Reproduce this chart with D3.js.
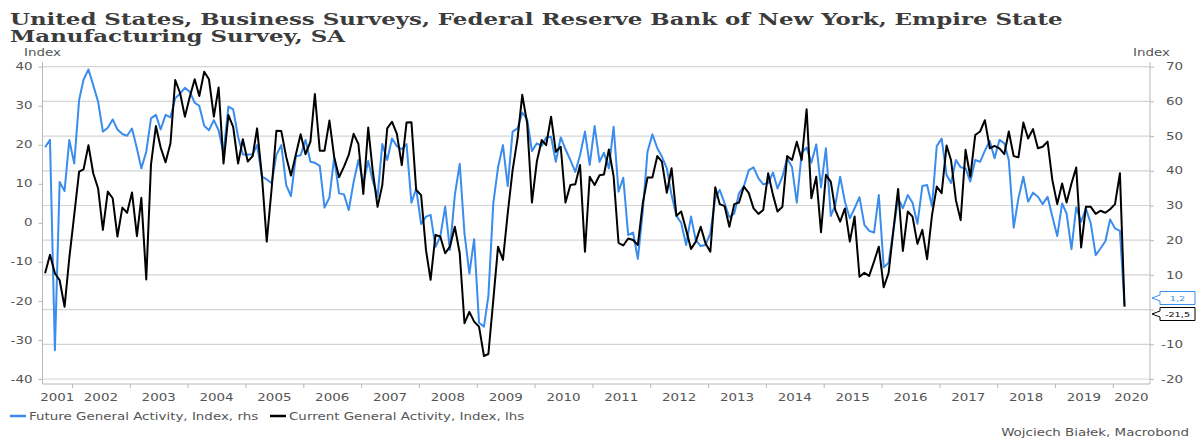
<!DOCTYPE html>
<html><head><meta charset="utf-8">
<script src="https://cdn.jsdelivr.net/npm/d3@7"></script>
<style>body{margin:0;background:#fff;} svg{display:block;}</style>
</head><body><svg id="c" width="1201" height="441"></svg>
<script>
// ---------- DATA (monthly, July 2001 – March 2020) ----------
const firstYear = 2001, firstMonth = 6; // July 2001 (0-based month)
const currentActivity = [
 -12.9,-8.2,-12.9,-14.7,-21.5,-9,2,13.1,13.7,19.9,
 12.7,8.8,-1.8,8.0,6.3,-3.5,3.9,2.6,7.8,-3.4,
 6.4,-14.5,15,24.8,19.3,15.5,20.4,36.6,33.2,27.2,
 32.3,36.8,32.5,38.7,36.8,27.2,34.7,15.2,27.6,
 24.6,15.2,21.4,15.7,17.1,24.2,11.8,-4.8,8.8,23.6,23.5,
 16.9,12.1,17.5,22.7,17.6,20.8,33.0,18.5,18.5,26.2,
 16.9,11.7,14.4,17.4,22.8,20.2,7.4,24.4,13.5,4.1,
 9.7,24.2,25.9,22.8,14.8,25.7,25.8,
 8.4,7.1,-7.0,-14.6,-3.1,-3.5,-7.8,-6.1,-1.0,
 -7.8,-25.7,-22.8,-25.3,-26.6,-34.1,-33.6,-19.8,-6.1,-9.5,
 2.4,13.5,21.6,32.8,25.5,5.2,15.7,21.2,19.9,27.2,
 18.2,19.5,5.2,9.7,9.9,14.8,-7.4,11.8,9.7,12.2,
 12.4,18.8,11.9,-5.1,-5.8,-4.0,-4.4,-5.7,5.0,11.6,
 11.6,17.1,15.7,7.7,14.0,1.8,2.9,-1.8,-6.7,-4.8,
 -1.0,-5.2,-7.4,9.1,4.8,4.3,-1.0,4.8,5.2,9.3,
 7.6,3.7,2.3,3.3,12.7,7.1,2.9,
 4.1,17.1,16.1,20.8,16.1,29.1,6.3,11.8,-2.4,12.3,
 10.5,3.3,0.3,3.7,-4.8,1.6,-13.8,-12.8,-13.6,-9.9,
 -6.1,-16.5,-12.8,-2.3,8.7,-7.2,2.9,1.6,-5.4,-1.8,
 -9.3,2.0,9.3,7.6,19.8,16.1,5.8,0.7,
 18.7,11.8,22.5,23.4,26.3,19.1,19.7,19.1,17.6,23.4,
 17.1,16.8,25.7,21.6,24.0,19.1,19.5,20.8,11.0,4.8,
 10.1,5.2,10.1,14.2,-6.3,4.1,4.1,2.3,3.1,2.6,
 3.5,4.8,12.7,-21.5
];
const futureActivity = [
 46.8,48.9,-11.7,36.8,34.2,48.9,42.1,60.4,66.3,69.2,
 64.7,59.9,51.3,52.4,54.8,51.9,50.6,50.1,52.2,46.4,
 40.7,45.5,55.1,56.1,51.9,56.1,55.4,60.9,62.3,63.9,
 62.8,59.6,58.7,53.0,51.7,54.6,51.7,45.0,58.5,
 57.7,49.8,44.7,44.7,44.7,47.4,38.3,37.5,36.4,44.6,47.4,
 35.9,32.7,44.2,44.5,48.9,42.6,42.3,41.4,29.4,32.3,
 43.9,33.5,33.2,28.7,36.8,43.1,36.4,42.8,37.3,32.5,
 47.7,43.1,49.3,47.1,46.2,47.7,30.8,
 34.9,24.7,26.8,27.3,18.1,21.0,29.7,17.2,33.0,
 42.0,22.0,10.4,20.3,-3.8,-4.9,3.9,30.6,41.0,47.4,
 35.6,51.3,52.2,56.8,54.8,45.7,47.9,47.2,49.6,49.8,
 42.6,49.6,46.2,43.1,39.7,44.5,51.3,41.7,52.9,42.6,
 45.2,40.7,52.7,34.0,38.0,21.5,22.2,14.6,28.2,45.5,
 50.5,46.5,44.1,40.7,33.0,27.0,25.0,18.6,26.8,20.0,
 18.3,18.6,22.0,32.1,34.5,30.6,26.6,27.7,33.5,35.6,
 40.2,41.0,37.8,36.1,36.4,39.5,34.9,
 38.3,43.6,41.0,30.8,45.2,46.7,42.3,47.6,35.2,46.5,
 27.0,30.1,38.3,31.1,26.3,29.2,32.4,24.4,22.7,22.2,
 33.0,12.2,13.5,22.5,32.1,29.2,33.0,30.8,24.7,35.6,
 35.9,29.8,47.1,49.3,38.8,36.5,43.1,41.0,
 40.7,36.9,43.1,42.6,45.8,48.6,43.6,48.9,47.9,43.1,
 23.6,32.1,38.3,31.1,33.7,32.5,30.4,32.5,26.8,21.2,
 30.6,27.7,17.4,29.5,25.3,29.1,24.8,15.7,17.6,19.7,
 26.0,23.4,22.7,1.2
];
const leftTicks = [40,30,20,10,0,-10,-20,-30,-40];
const rightTicks = [70,60,50,40,30,20,10,0,-10,-20];
const yearLabels = d3.range(2001, 2021);
const titleLines = ["United States, Business Surveys, Federal Reserve Bank of New York, Empire State",
                    "Manufacturing Survey, SA"];
const seriesNames = ["Future General Activity, Index, rhs", "Current General Activity, Index, lhs"];
const endLabels = ["1,2", "-21,5"];
const axisTitle = "Index";
const sourceText = "Wojciech Białek, Macrobond";

// ---------- LAYOUT ----------
const svg = d3.select("#c");
const X0 = 42.5, X1 = 1150, YT = 66.7, YB = 379, BASE = 384;
const BLUE = "#3a8ded", BLACK = "#000", GRID = "#d4d4d4", AX = "#b8b8b8", TXT = "#555";
const FONT = "'DejaVu Sans', Verdana, sans-serif";
const FS = 9.8, KX = 1.37;   // small text size and horizontal stretch of the original export

function stext(g, px, py, str, anchor, opt = {}) {
  return g.append("text")
    .attr("transform", `translate(${px},${py}) scale(${opt.k || KX},1)`)
    .attr("text-anchor", anchor || "start")
    .attr("fill", opt.fill || TXT)
    .style("font-family", FONT).style("font-size", (opt.fs || FS) + "px")
    .text(str);
}

const x = d3.scaleTime().domain([new Date(2002,0,1), new Date(2020,0,1)]).range([72, 1112.8]);
const yL = d3.scaleLinear().domain([-40,40]).range([YB, YT]);
const yR = d3.scaleLinear().domain([-20,70]).range([YB, YT]);
const dates = currentActivity.map((_, i) => new Date(firstYear, firstMonth + i, 15));

// title
const title = svg.append("g").attr("fill", "#3c3c3c")
  .style("font-family", "'DejaVu Serif', serif").style("font-weight", "bold").style("font-size", "16.3px");
const t1 = title.append("text").attr("x", 0).attr("y", 0).text(titleLines[0]);
const t2 = title.append("text").attr("x", 0).attr("y", 0).text(titleLines[1]);
const sx = 1052 / t1.node().getComputedTextLength();
t1.attr("transform", `translate(10,24.5) scale(${sx},1)`);
t2.attr("transform", `translate(10,42.3) scale(${sx},1)`);

// gridlines (right axis)
svg.append("g").selectAll("line").data(rightTicks).join("line")
  .attr("x1", X0).attr("x2", X1).attr("y1", d => yR(d)).attr("y2", d => yR(d))
  .attr("stroke", GRID).attr("stroke-width", 1.2);

// axis lines
svg.append("line").attr("x1", X0).attr("x2", X0).attr("y1", 62).attr("y2", BASE).attr("stroke", AX);
svg.append("line").attr("x1", X1).attr("x2", X1).attr("y1", 62).attr("y2", BASE).attr("stroke", AX);
svg.append("line").attr("x1", X0).attr("x2", X1).attr("y1", BASE).attr("y2", BASE).attr("stroke", AX);

// tick marks via d3 axes
const gl = svg.append("g").attr("transform", `translate(${X0},0)`)
  .call(d3.axisLeft(yL).tickValues(leftTicks).tickSize(4).tickFormat(() => "").tickSizeOuter(0));
const gr = svg.append("g").attr("transform", `translate(${X1},0)`)
  .call(d3.axisRight(yR).tickValues(rightTicks).tickSize(4).tickFormat(() => "").tickSizeOuter(0));
const yearTicks = d3.range(2002, 2021).map(y => new Date(y,0,1));
const gx = svg.append("g").attr("transform", `translate(0,${BASE})`)
  .call(d3.axisBottom(x).tickValues(yearTicks).tickSize(4).tickFormat(() => "").tickSizeOuter(0));
[gl, gr, gx].forEach(g => {
  g.select(".domain").remove();
  g.selectAll(".tick line").attr("stroke", AX);
  g.selectAll(".tick text").remove();
});

// end value label positions (boxes cover the right-axis zero label, as in the original)
const labs = [
  {txt: endLabels[0], color: BLUE, cy: 298},
  {txt: endLabels[1], color: "#000", cy: 314}
];

// tick labels
const labG = svg.append("g");
leftTicks.forEach(d => stext(labG, 32.5, yL(d) + 3.6, d, "end"));
rightTicks
  .filter(d => !labs.some(l => Math.abs(yR(d) - l.cy) < 10))
  .forEach(d => stext(labG, 1183, yR(d) + 3.6, d, "end"));
yearLabels.forEach(d => {
  const cx = (Math.max(X0, x(new Date(d,0,1))) + Math.min(X1, x(new Date(d+1,0,1)))) / 2;
  stext(labG, cx, 400.5, d, "middle");
});

// axis titles
stext(labG, 24, 55.5, axisTitle, "start");
stext(labG, 1133, 55.5, axisTitle, "start");

// series lines
const lineL = d3.line().x((d,i) => x(dates[i])).y(d => yL(d));
const lineR = d3.line().x((d,i) => x(dates[i])).y(d => yR(d));
svg.append("path").datum(futureActivity).attr("d", lineR).attr("fill", "none")
  .attr("stroke", BLUE).attr("stroke-width", 2).attr("stroke-linejoin", "round");
svg.append("path").datum(currentActivity).attr("d", lineL).attr("fill", "none")
  .attr("stroke", BLACK).attr("stroke-width", 2).attr("stroke-linejoin", "round");

// end value labels
labs.forEach(l => {
  const g = svg.append("g");
  const bx = 1160, bw = 35, bh = 13;
  g.append("path")
    .attr("d", `M${bx},${l.cy-bh/2} L${bx+bw},${l.cy-bh/2} L${bx+bw},${l.cy+bh/2} L${bx},${l.cy+bh/2} L${bx},${l.cy+3} L${X1+2},${l.cy} L${bx},${l.cy-3} Z`)
    .attr("fill", "#fff").attr("stroke", l.color).attr("stroke-width", 1);
  stext(g, bx + bw/2, l.cy + 2.8, l.txt, "middle", {fill: l.color, fs: 7.5, k: 1.3});
});

// legend
const leg = svg.append("g");
[[10, BLUE, seriesNames[0]], [270, BLACK, seriesNames[1]]].forEach(([lx, c, t]) => {
  leg.append("line").attr("x1", lx).attr("x2", lx+16).attr("y1", 416).attr("y2", 416)
    .attr("stroke", c).attr("stroke-width", 2.5);
  stext(leg, lx + 19, 419.6, t, "start");
});

// source
stext(svg, 1189, 435.5, sourceText, "end");
</script>
</body></html>
